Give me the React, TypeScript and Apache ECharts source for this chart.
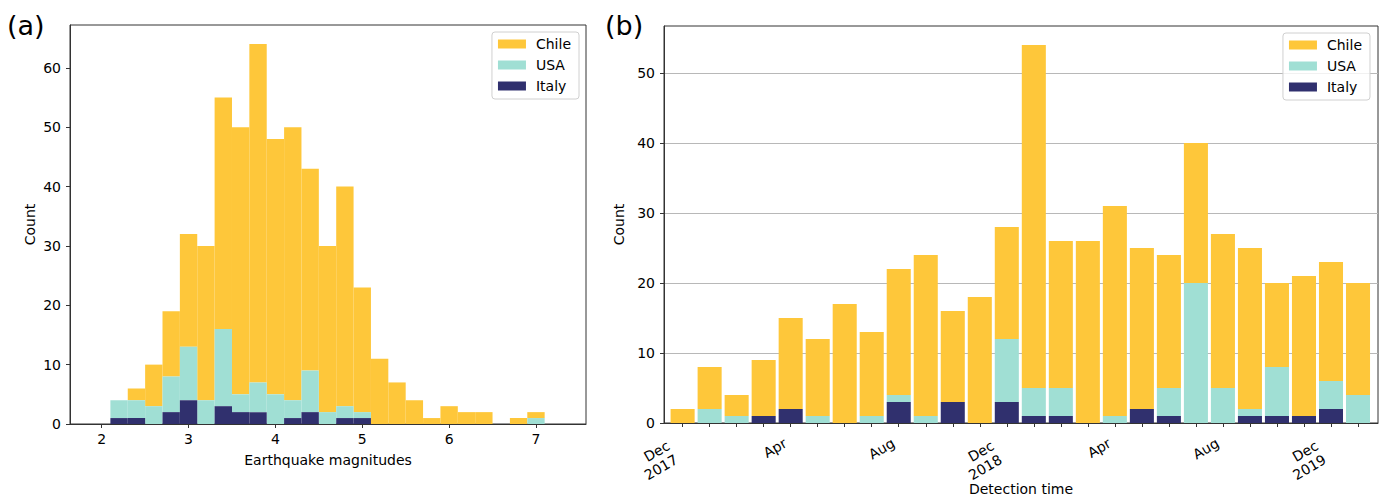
import React, { useEffect, useRef } from 'react';
import * as echarts from 'echarts';

const SERIES_NAMES = ['Chile', 'USA', 'Italy'];
const COLORS: Record<string, string> = { Chile: '#FEC73A', USA: '#A0DFD4', Italy: '#30306E' };
const FONT = 'DejaVu Sans';

// (a) histogram of magnitudes (stacked counts per bin)
const magBinEdges = [2.1, 2.3, 2.5, 2.7, 2.9, 3.1, 3.3, 3.5, 3.7, 3.9, 4.1, 4.3, 4.5, 4.7, 4.9, 5.1, 5.3, 5.5, 5.7, 5.9, 6.1, 6.3, 6.5, 6.7, 6.9, 7.1];
const magItaly = [1, 1, 0, 2, 4, 0, 3, 2, 2, 0, 1, 2, 0, 1, 1, 0, 0, 0, 0, 0, 0, 0, 0, 0, 0];
const magUSA = [3, 3, 3, 6, 9, 4, 13, 3, 5, 5, 3, 7, 2, 2, 1, 0, 0, 0, 0, 0, 0, 0, 0, 0, 1];
const magChile = [0, 2, 7, 11, 19, 26, 39, 45, 57, 43, 46, 34, 28, 37, 21, 11, 7, 4, 1, 3, 2, 2, 0, 1, 1];
const magTicks = [2, 3, 4, 5, 6, 7];
const countTicksA = [0, 10, 20, 30, 40, 50, 60];

// (b) monthly detections (stacked)
const monthLabels = ['Dec\n2017', 'Jan', 'Feb', 'Mar', 'Apr', 'May', 'Jun', 'Jul', 'Aug', 'Sep', 'Oct', 'Nov',
  'Dec\n2018', 'Jan', 'Feb', 'Mar', 'Apr', 'May', 'Jun', 'Jul', 'Aug', 'Sep', 'Oct', 'Nov', 'Dec\n2019', 'Jan'];
const monthIdx = [0, 1, 2, 3, 4, 5, 6, 7, 8, 9, 10, 11, 12, 13, 14, 15, 16, 17, 18, 19, 20, 21, 22, 23, 24, 25];
const labelIdxMonth = [4, 8, 16, 20];
const labelIdxYear = [0, 12, 24];
const timeItaly = [0, 0, 0, 1, 2, 0, 0, 0, 3, 0, 3, 0, 3, 1, 1, 0, 0, 2, 1, 0, 0, 1, 1, 1, 2, 0];
const timeUSA = [0, 2, 1, 0, 0, 1, 0, 1, 1, 1, 0, 0, 9, 4, 4, 0, 1, 0, 4, 20, 5, 1, 7, 0, 4, 4];
const timeChile = [2, 6, 3, 8, 13, 11, 17, 12, 18, 23, 13, 18, 16, 49, 21, 26, 30, 23, 19, 20, 22, 23, 12, 20, 17, 16];
const countTicksB = [0, 10, 20, 30, 40, 50];

const emptyGroup = () => ({ type: 'group', children: [] });

function histSeries(name: string, bases: number[], tops: number[]) {
  return {
    type: 'custom',
    name,
    xAxisIndex: 0,
    yAxisIndex: 0,
    itemStyle: { color: COLORS[name] },
    encode: { x: [0, 1], y: [2, 3] },
    data: magBinEdges.slice(0, -1).map((x0, i) => [x0, magBinEdges[i + 1], bases[i], tops[i]]),
    renderItem: (_params: any, api: any) => {
      const b = api.value(2);
      const t = api.value(3);
      if (t <= b) return emptyGroup();
      const p0 = api.coord([api.value(0), t]);
      const p1 = api.coord([api.value(1), b]);
      return {
        type: 'rect',
        shape: { x: p0[0], y: p0[1], width: p1[0] - p0[0], height: p1[1] - p0[1] },
        style: { fill: COLORS[name] },
      };
    },
  };
}

function monthSeries(name: string, bases: number[], tops: number[]) {
  return {
    type: 'custom',
    name,
    xAxisIndex: 1,
    yAxisIndex: 1,
    itemStyle: { color: COLORS[name] },
    encode: { x: 0, y: [1, 2] },
    data: monthIdx.map((m, i) => [m, bases[i], tops[i]]),
    renderItem: (_params: any, api: any) => {
      const b = api.value(1);
      const t = api.value(2);
      if (t <= b) return emptyGroup();
      const pt = api.coord([api.value(0), t]);
      const pb = api.coord([api.value(0), b]);
      const w = api.size([1, 0])[0] * 0.89;
      return {
        type: 'rect',
        shape: { x: pt[0] - w / 2, y: pt[1], width: w, height: pb[1] - pt[1] },
        style: { fill: COLORS[name] },
      };
    },
  };
}

export default function App() {
  const ref = useRef<HTMLDivElement>(null);
  useEffect(() => {
    if (!ref.current) return;
    const chart = echarts.init(ref.current, null, { renderer: 'svg' });

    const aItalyTop = magItaly.slice();
    const aUsaTop = magItaly.map((v, i) => v + magUSA[i]);
    const aChileTop = aUsaTop.map((v, i) => v + magChile[i]);

    const bItalyTop = timeItaly.slice();
    const bUsaTop = timeItaly.map((v, i) => v + timeUSA[i]);
    const bChileTop = bUsaTop.map((v, i) => v + timeChile[i]);

    const axisColor = '#333';
    const labelStyle = { color: '#000', fontSize: 14, fontFamily: FONT };
    const legendBase = {
      data: SERIES_NAMES,
      orient: 'vertical',
      icon: 'rect',
      itemWidth: 28,
      itemHeight: 9,
      itemGap: 7,
      padding: [5, 8, 6, 6],
      borderColor: '#d0d0d0',
      borderWidth: 1,
      borderRadius: 3,
      backgroundColor: 'rgba(255,255,255,0.8)',
      textStyle: { color: '#000', fontSize: 14, fontFamily: FONT, padding: [0, 0, 0, 5] },
      selectedMode: false,
    };

    const option: any = {
      animation: false,
      textStyle: { fontFamily: FONT },
      grid: [
        { left: 70, right: 797, top: 25, bottom: 77, show: true, borderColor: axisColor, borderWidth: 1, backgroundColor: 'transparent' },
        { left: 664, right: 5, top: 26, bottom: 76, show: true, borderColor: axisColor, borderWidth: 1, backgroundColor: 'transparent' },
      ],
      legend: [
        { ...legendBase, right: 804, top: 32 },
        { ...legendBase, right: 13, top: 33 },
      ],
      xAxis: [
        {
          type: 'value', gridIndex: 0, position: 'bottom', min: 1.635, max: 7.576,
          name: 'Earthquake magnitudes', nameLocation: 'middle', nameGap: 29,
          nameTextStyle: labelStyle,
          axisLine: { show: true, onZero: false, lineStyle: { color: axisColor } },
          axisTick: { show: true, length: 4, lineStyle: { color: axisColor }, customValues: magTicks },
          axisLabel: { ...labelStyle, margin: 8, customValues: magTicks },
          splitLine: { show: false },
        },
        {
          type: 'value', gridIndex: 1, position: 'bottom', min: -0.689, max: 25.74,
          name: 'Detection time', nameLocation: 'middle', nameGap: 59,
          nameTextStyle: labelStyle,
          axisLine: { show: true, onZero: false, lineStyle: { color: axisColor } },
          axisTick: { show: true, length: 4, lineStyle: { color: axisColor }, customValues: monthIdx },
          axisLabel: {
            ...labelStyle, rotate: 30, align: 'right', verticalAlign: 'top', lineHeight: 17,
            padding: [0, 11, 0, 0], margin: 6, customValues: labelIdxMonth,
            formatter: (v: number) => monthLabels[Math.round(v)] ?? '',
          },
          splitLine: { show: false },
        },
        {
          type: 'value', gridIndex: 1, position: 'bottom', min: -0.689, max: 25.74,
          axisLine: { show: false, onZero: false },
          axisTick: { show: false },
          axisLabel: {
            ...labelStyle, rotate: 30, align: 'right', verticalAlign: 'top', lineHeight: 16,
            padding: [0, 21, 0, 0], margin: 4, customValues: labelIdxYear,
            formatter: (v: number) => monthLabels[Math.round(v)] ?? '',
          },
          splitLine: { show: false },
        },
      ],
      yAxis: [
        {
          type: 'value', gridIndex: 0, position: 'left', min: 0, max: 67.2,
          name: 'Count', nameLocation: 'middle', nameGap: 33, nameTextStyle: labelStyle,
          axisLine: { show: true, onZero: false, lineStyle: { color: axisColor } },
          axisTick: { show: true, length: 4, lineStyle: { color: axisColor }, customValues: countTicksA },
          axisLabel: { ...labelStyle, margin: 9, customValues: countTicksA },
          splitLine: { show: false },
        },
        {
          type: 'value', gridIndex: 1, position: 'left', min: 0, max: 56.7,
          name: 'Count', nameLocation: 'middle', nameGap: 33, nameTextStyle: labelStyle,
          axisLine: { show: true, onZero: false, lineStyle: { color: axisColor } },
          axisTick: { show: true, length: 4, lineStyle: { color: axisColor }, customValues: countTicksB },
          axisLabel: { ...labelStyle, margin: 9, customValues: countTicksB },
          splitLine: { show: true, lineStyle: { color: '#b8b8b8', width: 1 } },
        },
      ],
      graphic: [
        { type: 'text', left: 7, top: 12, style: { text: '(a)', fontSize: 27, fontFamily: FONT, fill: '#000' } },
        { type: 'text', left: 605, top: 12, style: { text: '(b)', fontSize: 27, fontFamily: FONT, fill: '#000' } },
      ],
      series: [
        histSeries('Chile', aUsaTop, aChileTop),
        histSeries('USA', aItalyTop, aUsaTop),
        histSeries('Italy', magItaly.map(() => 0), aItalyTop),
        monthSeries('Chile', bUsaTop, bChileTop),
        monthSeries('USA', bItalyTop, bUsaTop),
        monthSeries('Italy', timeItaly.map(() => 0), bItalyTop),
      ],
    };
    chart.setOption(option);
    return () => chart.dispose();
  }, []);

  return (
    <div
      ref={ref}
      style={{ position: 'fixed', left: 0, top: 0, width: 1383, height: 501, background: '#fff' }}
    />
  );
}
